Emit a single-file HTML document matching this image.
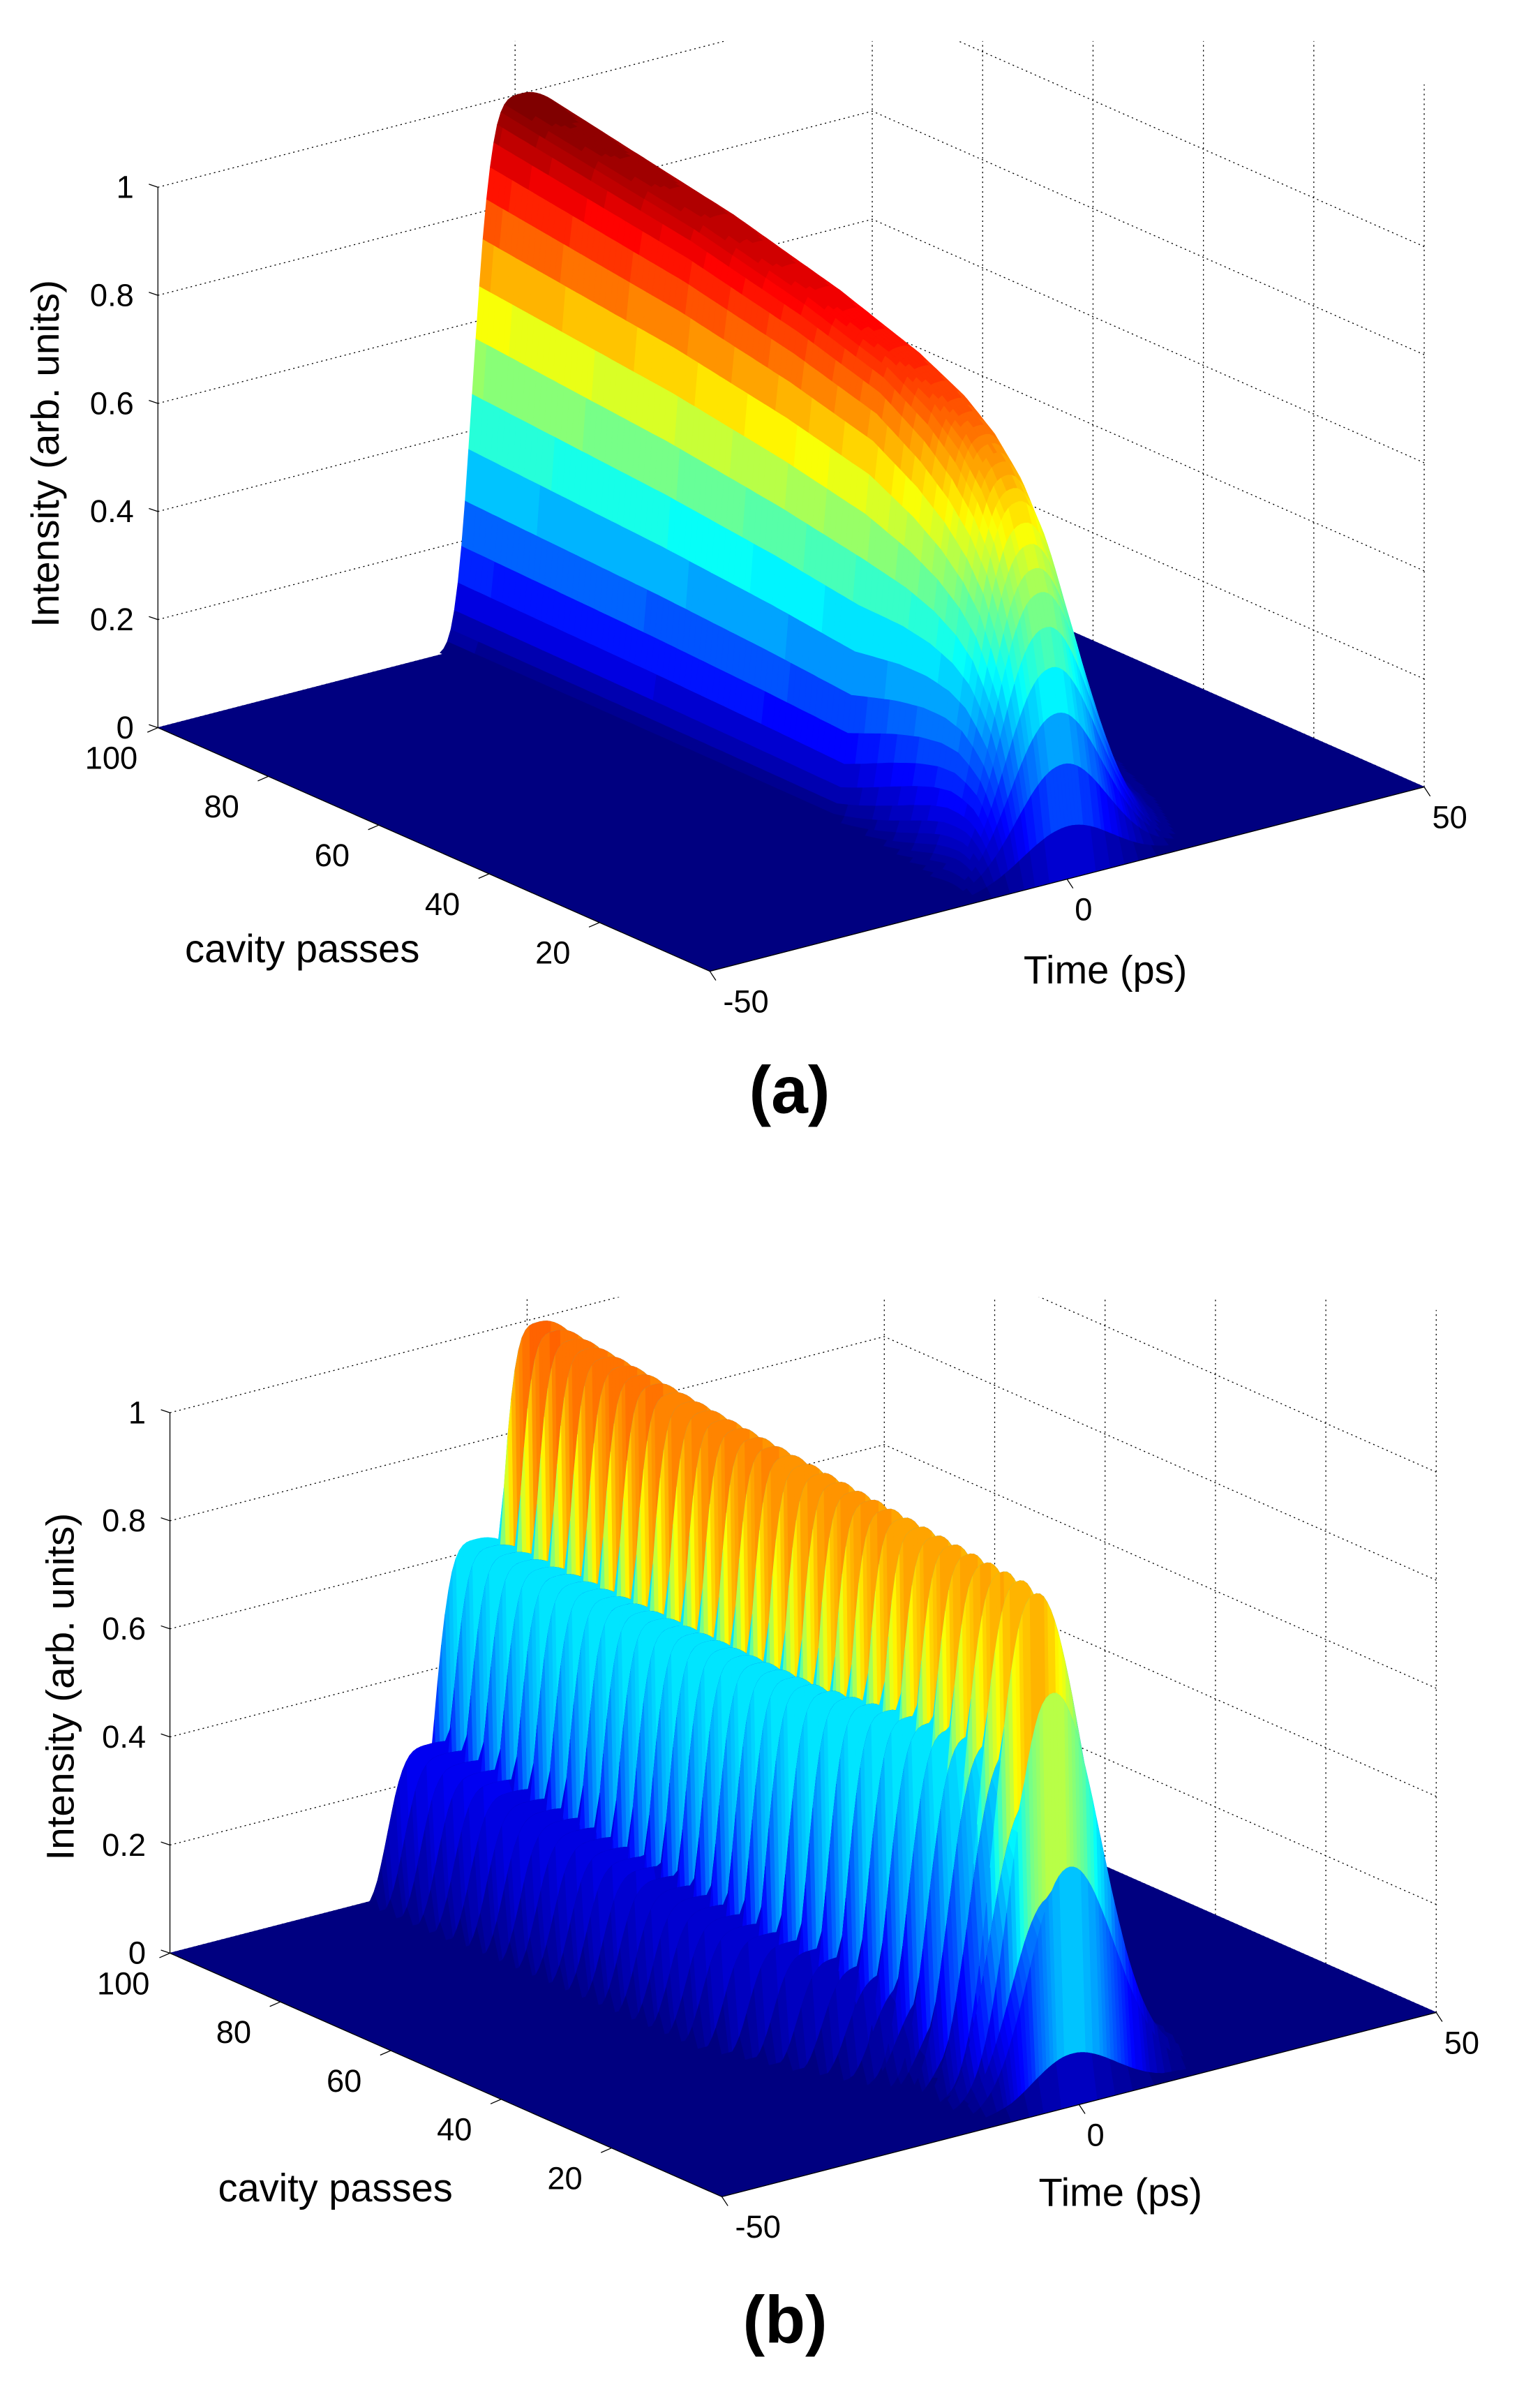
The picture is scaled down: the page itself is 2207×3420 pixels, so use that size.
<!DOCTYPE html>
<html><head><meta charset="utf-8"><style>
html,body{margin:0;padding:0;background:#fff;}
svg{display:block;}
text{font-family:"Liberation Sans",Arial,sans-serif;fill:#000;}
</style></head><body>
<svg id="s" xmlns="http://www.w3.org/2000/svg" width="2207" height="3420" viewBox="0 0 1024 1568" preserveAspectRatio="none">
<defs>
<clipPath id="ca"><rect x="0" y="27" width="1024" height="700"/></clipPath>
<clipPath id="cb"><rect x="0" y="852" width="1024" height="700"/></clipPath>
</defs>
<g id="pa" clip-path="url(#ca)"></g>
<g id="pb" clip-path="url(#cb)"></g>
<g id="labels" font-size="21">
</g>
<text x="201" y="632" font-size="26" text-anchor="middle">cavity passes</text>
<text x="735" y="646" font-size="26" text-anchor="middle">Time (ps)</text>
<text transform="translate(39,298) rotate(-90)" font-size="26" text-anchor="middle">Intensity (arb. units)</text>
<text x="525" y="731" font-size="44" font-weight="bold" text-anchor="middle">(a)</text>
<text x="223" y="1446" font-size="26" text-anchor="middle">cavity passes</text>
<text x="745" y="1449" font-size="26" text-anchor="middle">Time (ps)</text>
<text transform="translate(49,1108) rotate(-90)" font-size="26" text-anchor="middle">Intensity (arb. units)</text>
<text x="522" y="1539" font-size="44" font-weight="bold" text-anchor="middle">(b)</text>
</svg>
<script>
(function(){
function clamp(x){return x<0?0:(x>1?1:x);}
function jet(v){v=clamp(v);v=Math.floor(v*63.999)/63;
 var r=clamp(1.5-Math.abs(4*v-3)),g=clamp(1.5-Math.abs(4*v-2)),b=clamp(1.5-Math.abs(4*v-1));
 return 'rgb('+Math.round(r*255)+','+Math.round(g*255)+','+Math.round(b*255)+')';}
function interp(tab,x){for(var i=1;i<tab.length;i++){if(x<=tab[i][0]){var a=tab[i-1],b=tab[i];return a[1]+(b[1]-a[1])*(x-a[0])/(b[0]-a[0]);}}return tab[tab.length-1][1];}
var TA=[[0,0],[1,0.09],[2,0.2],[3,0.29],[4,0.37],[5,0.44],[6,0.5],[8,0.58],[10,0.65],[13,0.71],[17,0.76],[22,0.8],[30,0.84],[45,0.89],[65,0.94],[100,1]];
function shape(t,t0,sl,p,sr){if(t<t0)return Math.exp(-0.5*Math.pow((t0-t)/sl,p));return Math.exp(-0.5*Math.pow((t-t0)/sr,2));}
function za(t,n){var A=interp(TA,n);var p=2+2*Math.min(1,n/30);return A*shape(t,1,6.3,p,6+12*n/100);}
function zb(t,n){var G=Math.min(1,interp(TA,n)/0.62);var k=n%3;var f=Math.min(1,n/40);var A,t0;
 if(k==0){A=0.9+0.1*n/100;t0=1;}else if(k==1){A=0.62;t0=-7*f;}else{A=0.28*(0.5+0.5*n/100);t0=-15*f;}
 var p=2+2*Math.min(1,n/30);return G*A*shape(t,t0,5.5,p,6+10*n/100);}
function ca(z,n){return z;}
function cb(z,n){var k=n%3;var f=n<10?1:(k==0?1:(k==1?0.75:0.55));return z/1.3*f;}
function build(gid,fx,fy,zf,cf){
 var P=function(t,n,z){return [fx+(t+50)*4.75-n*3.67, fy-(t+50)*1.21-n*1.6-z*355];};
 var s='';
 function pt(a){return a[0].toFixed(1)+','+a[1].toFixed(1);}
 var dd=' stroke="#000" stroke-width="0.6" stroke-dasharray="1,2.2" fill="none"';
 for(var z=0;z<=1.001;z+=0.2){
  s+='<polyline points="'+pt(P(-50,100,z))+' '+pt(P(50,100,z))+' '+pt(P(50,0,z))+'"'+dd+'/>';
 }
 [0,50].forEach(function(t){s+='<line x1="'+P(t,100,0)[0]+'" y1="'+P(t,100,0)[1]+'" x2="'+P(t,100,1.3)[0]+'" y2="'+P(t,100,1.3)[1]+'"'+dd+'/>';});
 [0,20,40,60,80].forEach(function(n){s+='<line x1="'+P(50,n,0)[0]+'" y1="'+P(50,n,0)[1]+'" x2="'+P(50,n,1.3)[0]+'" y2="'+P(50,n,1.3)[1]+'"'+dd+'/>';});
 var fc=jet(0);
 s+='<polygon points="'+pt(P(-50,0,0))+' '+pt(P(50,0,0))+' '+pt(P(50,100,0))+' '+pt(P(-50,100,0))+'" fill="'+fc+'" stroke="'+fc+'" stroke-width="0.5"/>';
 var dt=0.5,NT=200,Z=[];
 for(var i=0;i<=100;i++){Z[i]=[];for(var j=0;j<=NT;j++){Z[i][j]=zf(-50+j*dt,i);}}
 for(var i=100;i>=1;i--){for(var j=NT-1;j>=0;j--){
  var a=Z[i][j],b=Z[i][j+1],c=Z[i-1][j+1],d=Z[i-1][j];
  var m=Math.max(a,b,c,d);if(m<0.004)continue;
  var t1=-50+j*dt,t2=t1+dt;
  var col=jet(cf((a+b)/2,i));
  s+='<polygon points="'+pt(P(t1,i,a))+' '+pt(P(t2,i,b))+' '+pt(P(t2,i-1,c))+' '+pt(P(t1,i-1,d))+'" fill="'+col+'" stroke="'+col+'" stroke-width="0.35"/>';
 }}
 var L=P(-50,100,0),F=P(-50,0,0),R=P(50,0,0),T1=P(-50,100,1);
 s+='<line x1="'+L[0]+'" y1="'+L[1]+'" x2="'+T1[0]+'" y2="'+T1[1]+'" stroke="#000" stroke-width="0.6"/>';
 s+='<polyline points="'+pt(L)+' '+pt(F)+' '+pt(R)+'" stroke="#000" stroke-width="0.6" fill="none"/>';
 var lab='';
 for(var k=0;k<=5;k++){var z=k*0.2;var q=P(-50,100,z);
  s+='<line x1="'+q[0]+'" y1="'+q[1]+'" x2="'+(q[0]-6)+'" y2="'+(q[1]-2)+'" stroke="#000" stroke-width="0.6"/>';
  lab+='<text x="'+(q[0]-16)+'" y="'+(q[1]+7)+'" text-anchor="end">'+(k==0?'0':(k==5?'1':z.toFixed(1)))+'</text>';}
 [20,40,60,80,100].forEach(function(n){var q=P(-50,n,0);
  s+='<line x1="'+q[0]+'" y1="'+q[1]+'" x2="'+(q[0]-7)+'" y2="'+(q[1]+3)+'" stroke="#000" stroke-width="0.6"/>';
  lab+='<text x="'+(q[0]-31)+'" y="'+(q[1]+27)+'" text-anchor="middle">'+n+'</text>';});
 [[-50,24],[0,11],[50,17]].forEach(function(o){var q=P(o[0],0,0);
  s+='<line x1="'+q[0]+'" y1="'+q[1]+'" x2="'+(q[0]+4)+'" y2="'+(q[1]+6)+'" stroke="#000" stroke-width="0.6"/>';
  lab+='<text x="'+(q[0]+o[1])+'" y="'+(q[1]+27)+'" text-anchor="middle">'+o[0]+'</text>';});
 document.getElementById(gid).innerHTML=s;
 document.getElementById('labels').innerHTML+=lab;
}
build('pa',472,638,za,ca);
build('pb',480,1443,zb,cb);
})();
</script>
</body></html>
